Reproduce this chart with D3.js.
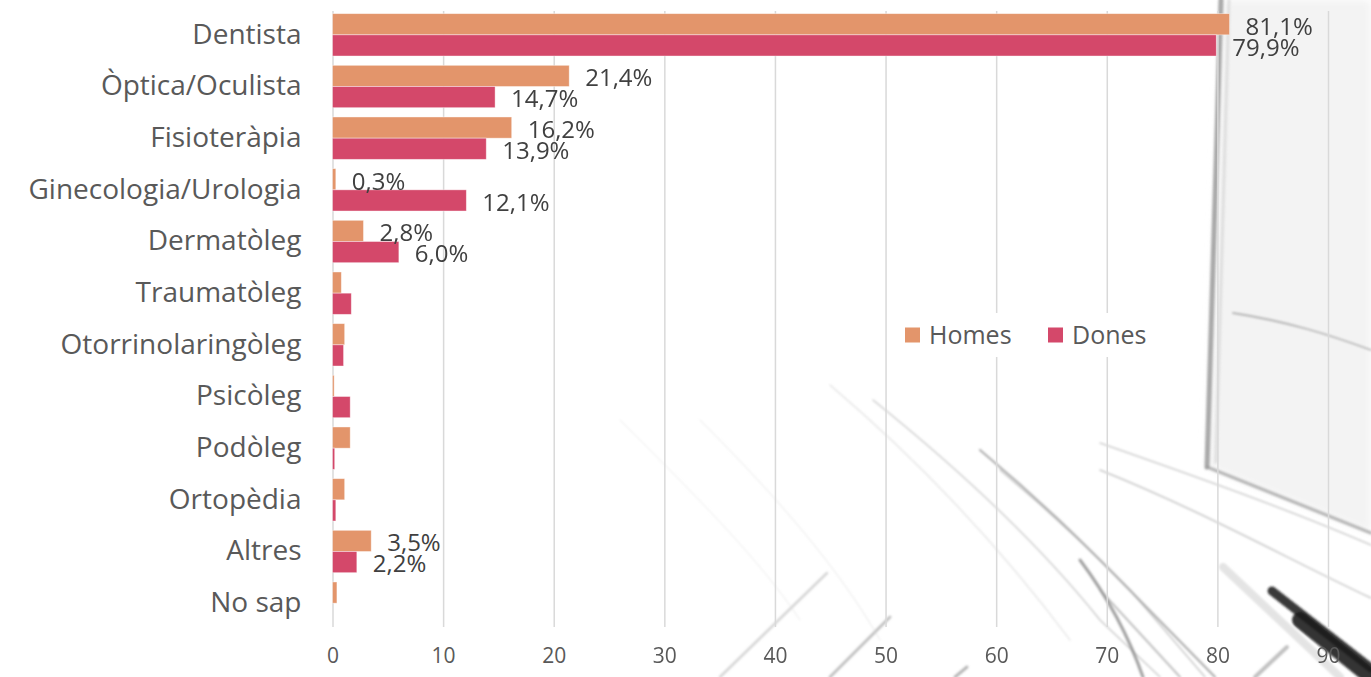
<!DOCTYPE html>
<html>
<head>
<meta charset="utf-8">
<script src="https://cdn.jsdelivr.net/npm/d3@7"></script>
<style>
  html, body { margin: 0; padding: 0; background: #ffffff; }
  svg { display: block; }
</style>
</head>
<body>
<svg id="chart" width="1371" height="677"></svg>
<script>
// Specialists visited, by sex (%)
const categories = [
  "Dentista", "Òptica/Oculista", "Fisioteràpia", "Ginecologia/Urologia",
  "Dermatòleg", "Traumatòleg", "Otorrinolaringòleg", "Psicòleg",
  "Podòleg", "Ortopèdia", "Altres", "No sap"
];
const seriesNames = ["Homes", "Dones"];
const homes = [81.1, 21.4, 16.2, 0.3, 2.8, 0.8, 1.1, 0.15, 1.6, 1.1, 3.5, 0.4];
const dones = [79.9, 14.7, 13.9, 12.1, 6.0, 1.7, 1.0, 1.6, 0.2, 0.3, 2.2, 0];
// categories whose bars carry a value label
const labelled = [true, true, true, true, true, false, false, false, false, false, true, false];
const xTicks = [0, 10, 20, 30, 40, 50, 60, 70, 80, 90];

const colors = { Homes: "#e3956b", Dones: "#d4486a" };

const svg = d3.select("#chart");

// ---- soft grey photographic backdrop (decoration) ----
const defs = svg.append("defs");
defs.append("filter").attr("id", "soft")
  .append("feGaussianBlur").attr("stdDeviation", 1.3);
defs.append("filter").attr("id", "softer")
  .append("feGaussianBlur").attr("stdDeviation", 4);

// pale window pane on the right
svg.append("path")
  .attr("d", "M1222,0 L1371,0 L1371,533 L1207,467 Z")
  .attr("fill", "#f3f3f3").attr("filter", "url(#softer)");

const bg = svg.append("g").attr("filter", "url(#soft)").attr("fill", "none").attr("stroke-linecap", "round");
const deco = [
  // window frame
  { d: "M1221,0 L1207,467", w: 5, c: "#8f8f8f", o: 0.75 },
  { d: "M1229,0 L1216,462", w: 3, c: "#d0d0d0", o: 0.6 },
  { d: "M1207,467 L1371,533", w: 3, c: "#9a9a9a", o: 0.7 },
  { d: "M1233,313 C1290,322 1330,335 1371,350", w: 1.8, c: "#9c9c9c", o: 0.7 },
  { d: "M1100,443 C1200,478 1290,510 1371,545", w: 1.5, c: "#b0b0b0", o: 0.6 },
  { d: "M1100,470 C1200,510 1290,560 1371,598", w: 1.5, c: "#a5a5a5", o: 0.6 },
  // sweeping diagonal strokes
  { d: "M873,400 C960,470 1040,545 1100,620 L1160,677", w: 1.5, c: "#b8b8b8", o: 0.7 },
  { d: "M830,385 C930,470 1010,560 1070,640", w: 1.2, c: "#cfcfcf", o: 0.6 },
  { d: "M980,450 C1040,500 1080,540 1110,570 L1215,677", w: 2.2, c: "#8f8f8f", o: 0.7 },
  { d: "M1000,470 C1060,520 1100,560 1130,590 L1205,677", w: 1.5, c: "#a8a8a8", o: 0.6 },
  { d: "M1080,560 C1110,600 1130,640 1143,677", w: 3, c: "#7a7a7a", o: 0.7 },
  { d: "M1100,590 L1180,677", w: 2, c: "#999", o: 0.6 },
  { d: "M1223,567 L1340,677", w: 8, c: "#d8d8d8", o: 0.7 },
  { d: "M1272,591 L1371,668", w: 9, c: "#262626", o: 0.9 },
  { d: "M1300,620 L1371,677", w: 16, c: "#1e1e1e", o: 0.9 },
  { d: "M827,573 L720,677", w: 2.5, c: "#c4c4c4", o: 0.7 },
  { d: "M890,617 L830,677", w: 3, c: "#a8a8a8", o: 0.7 },
  { d: "M967,667 L955,677", w: 3, c: "#888", o: 0.6 },
  { d: "M1287,647 L1255,677", w: 4, c: "#9a9a9a", o: 0.6 },
  { d: "M620,420 C700,500 760,560 800,620", w: 1, c: "#dcdcdc", o: 0.6 },
  { d: "M700,420 C780,500 840,570 880,640", w: 1, c: "#d6d6d6", o: 0.6 }
];
bg.selectAll("path").data(deco).join("path")
  .attr("d", d => d.d).attr("stroke", d => d.c)
  .attr("stroke-width", d => d.w).attr("opacity", d => d.o);

// ---- scales ----
const x = d3.scaleLinear().domain([0, 90]).range([332.5, 1328]);
const y = d3.scaleBand().domain(categories).range([9, 629])
  .paddingInner(0.18).paddingOuter(0.09);
const ySub = d3.scaleBand().domain(seriesNames).range([0, y.bandwidth()]);

// ---- gridlines ----
svg.append("g")
  .attr("transform", `translate(0,${y.range()[1] - 2})`)
  .call(d3.axisBottom(x).tickValues(xTicks).tickSize(-(y.range()[1] - y.range()[0] - 4)).tickFormat(""))
  .call(g => g.select(".domain").remove())
  .call(g => g.selectAll(".tick line").attr("stroke", "#d9d9d9").attr("stroke-width", 1.5));

// tick labels
svg.append("g")
  .attr("transform", `translate(0,${y.range()[1]})`)
  .call(d3.axisBottom(x).tickValues(xTicks).tickSize(0).tickPadding(19))
  .call(g => g.select(".domain").remove())
  .call(g => g.selectAll(".tick text")
    .attr("fill", "#595959")
    .style("font-family", "'Open Sans', sans-serif")
    .style("font-size", "21px"));

// category labels
svg.append("g")
  .attr("transform", `translate(${x(0)},0)`)
  .call(d3.axisLeft(y).tickSize(0).tickPadding(31))
  .call(g => g.select(".domain").remove())
  .call(g => g.selectAll(".tick text")
    .attr("fill", "#595959")
    .style("font-family", "'Open Sans', sans-serif")
    .style("font-size", "28px"));

// ---- bars ----
const rows = categories.map((c, i) => ({
  cat: c, labelled: labelled[i],
  vals: [{ s: "Homes", v: homes[i] }, { s: "Dones", v: dones[i] }]
}));

const fmt = v => d3.format(".1f")(v).replace(".", ",") + "%";

const grp = svg.append("g").selectAll("g").data(rows).join("g")
  .attr("transform", d => `translate(0,${y(d.cat)})`);

grp.selectAll("rect").data(d => d.vals.filter(e => e.v > 0)).join("rect")
  .attr("x", x(0))
  .attr("y", e => ySub(e.s))
  .attr("width", e => x(e.v) - x(0))
  .attr("height", ySub.bandwidth())
  .attr("fill", e => colors[e.s])
  .attr("stroke", "#ffffff").attr("stroke-opacity", 0.5).attr("stroke-width", 0.8);

grp.filter(d => d.labelled).selectAll("text").data(d => d.vals).join("text")
  .attr("x", e => x(e.v) + 16)
  .attr("y", e => ySub(e.s) + ySub.bandwidth() / 2 + 2)
  .attr("dy", "0.35em")
  .attr("fill", "#404040")
  .style("font-family", "'Open Sans', sans-serif")
  .style("font-size", "24px")
  .text(e => fmt(e.v));

// ---- legend ----
const leg = svg.append("g");
leg.append("rect").attr("x", 892).attr("y", 313).attr("width", 272).attr("height", 44).attr("fill", "#ffffff");
const legX = { Homes: 905, Dones: 1048 };
const li = leg.selectAll("g.item").data(seriesNames).join("g").attr("class", "item")
  .attr("transform", s => `translate(${legX[s]},335)`);
li.append("rect").attr("x", 0).attr("y", -7.5).attr("width", 15).attr("height", 15)
  .attr("fill", s => colors[s]);
li.append("text").attr("x", 24).attr("dy", "0.35em")
  .attr("fill", "#595959")
  .style("font-family", "'Open Sans', sans-serif")
  .style("font-size", "25px")
  .text(s => s);
</script>
</body>
</html>
